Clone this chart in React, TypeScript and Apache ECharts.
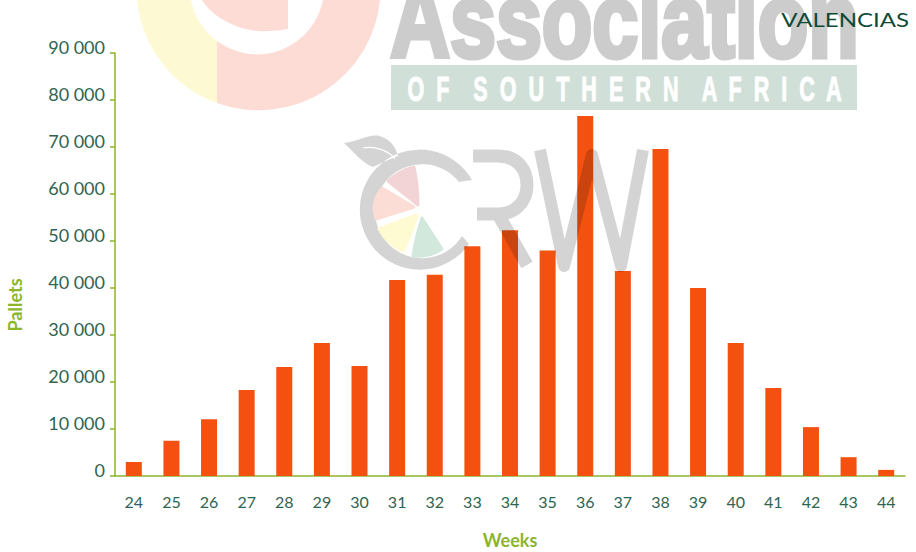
import React, { useEffect, useRef } from "react";
import * as echarts from "echarts";

const weeks = ["24","25","26","27","28","29","30","31","32","33","34","35","36","37","38","39","40","41","42","43","44"];
const pallets = [3000,7500,12100,18300,23200,28300,23400,41700,42800,48900,52300,48000,76600,43600,69600,40000,28300,18700,10400,4000,1300];
const titleText = "VALENCIAS";
const yName = "Pallets";
const xName = "Weeks";
const logoWord = "Association";
const logoSub = "O  F    S  O  U  T  H  E  R  N    A  F  R  I  C  A";

const shapes: Record<string, string> = {
  bigYellow: "M137 0 A122 122 0 0 0 217 103 L217 41 A67 67 0 0 1 191 0 Z",
  bigPink: "M217 103 A122 122 0 0 0 380 0 L323 0 A67 67 0 0 1 217 41 Z",
  bigInner: "M202 0 C214 20 245 33 267 31 Q278 31 288 29 L288 0 Z",
  crwRing:
    "M472 180 A60 60 0 1 0 469 244 L462 236 A47 47 0 1 1 459 182 Z " +
    "M344 143 C360 141 372 132 382 137 C391 140 396 148 398 156 L388 160 L373 167 C362 163 354 152 344 143 Z",
  crwR: "M473 156 L498 156 C518 156 527 170 527 185 C527 203 514 214 498 214 L477 214 M499 216 L527 265",
  crwW: "M540 150 L564 266 L592 155 L621 266 L643 150",
  vein: "M363 148 C375 146 388 150 395 159",
  wedgePink: "M388 181 C396 174 405 169 414 167 C417 180 418 193 418 205 Z",
  wedgeSalmon: "M382 188 L414 207 L376 219 C372 208 375 197 382 188 Z",
  wedgeYellow: "M417 215 C413 228 408 241 403 251 C392 246 384 238 379 229 Z",
  wedgeGreen: "M422 218 L442 249 C433 255 423 257 413 256 C415 243 418 230 422 218 Z",
};
Object.keys(shapes).forEach((k) => {
  echarts.graphic.registerShape(k, echarts.graphic.extendPath(shapes[k], {}));
});

export default function App() {
  const ref = useRef<HTMLDivElement>(null);
  useEffect(() => {
    document.body.style.margin = "0";
    const chart = echarts.init(ref.current!, undefined, { renderer: "svg" });
    const f = (t: string, style: any, z = 0) => ({ type: t, x: 0, y: 0, z, style, silent: true });
    const grey = "rgba(0,0,0,0.17)";
    const stroke = (t: string, w: number) =>
      f(t, { fill: "none", stroke: grey, lineWidth: w, lineCap: "butt", lineJoin: "round" }, 10);
    const wedge = (t: string, c: string) =>
      f(t, { fill: c, stroke: c, lineWidth: 3, lineJoin: "round" }, 10);
    chart.setOption({
      animation: false,
      backgroundColor: "#fff",
      grid: { left: 115, right: 11, top: 53, bottom: 76, outerBoundsMode: "none" },
      xAxis: {
        type: "category",
        data: weeks,
        name: xName,
        nameLocation: "middle",
        nameGap: 55,
        nameTextStyle: { color: "#8db52c", fontFamily: "Lato", fontSize: 18, fontWeight: "bold" },
        axisLine: { lineStyle: { color: "#8db52c", width: 1.5 } },
        axisTick: { alignWithLabel: false, length: 7, lineStyle: { color: "#8db52c", width: 1.5 } },
        axisLabel: { color: "#2f6450", fontFamily: "Lato", fontSize: 16, margin: 17, interval: 0 },
      },
      yAxis: {
        type: "value",
        min: 0,
        max: 90000,
        interval: 10000,
        splitLine: { show: false },
        axisLine: { show: true, lineStyle: { color: "#8db52c", width: 1.5 } },
        axisTick: { show: true, length: 5, lineStyle: { color: "#8db52c", width: 1.5 } },
        axisLabel: {
          color: "#2f6450",
          fontFamily: "Lato",
          fontSize: 18,
          margin: 10,
          verticalAlign: "bottom",
          lineHeight: 12,
          formatter: (v: number) => String(v).replace(/\B(?=(\d{3})+$)/g, " "),
        },
      },
      series: [{ type: "bar", data: pallets, barWidth: 16, itemStyle: { color: "#f45110" } }],
      graphic: [
        f("bigYellow", { fill: "#fdfad3" }),
        f("bigPink", { fill: "#fcdcd4" }),
        f("bigInner", { fill: "#fcdcd4" }),
        { type: "rect", shape: { x: 391, y: 65, width: 466, height: 45 }, style: { fill: "#d0e0d8" }, silent: true },
        {
          type: "text", x: 624.5, y: 20, silent: true, scaleX: 0.78,
          style: { text: logoWord, fill: "#cccccc", stroke: "#cccccc", lineWidth: 5, font: "bold 106px 'Liberation Sans'", textAlign: "center", verticalAlign: "middle" },
        },
        {
          type: "text", x: 624.5, y: 88.5, silent: true, scaleX: 0.6,
          style: { text: logoSub, fill: "#ffffff", stroke: "#ffffff", lineWidth: 1, font: "bold 36px 'Liberation Sans'", textAlign: "center", verticalAlign: "middle" },
        },
        f("crwRing", { fill: grey }, 10),
        stroke("crwR", 13),
        stroke("crwW", 12),
        f("vein", { fill: "none", stroke: "#ffffff", lineWidth: 1.2 }, 11),
        wedge("wedgePink", "#f2d4d7"),
        wedge("wedgeSalmon", "#fbddd5"),
        wedge("wedgeYellow", "#fefbd2"),
        wedge("wedgeGreen", "#d3e8dc"),
        {
          type: "text", x: 15, y: 305, rotation: Math.PI / 2, silent: true,
          style: { text: yName, fill: "#8db52c", font: "bold 18px Lato", textAlign: "center", verticalAlign: "middle" },
        },
        {
          type: "text", x: 909, y: 19, z: 20, scaleX: 1.2, silent: true,
          style: { text: titleText, fill: "#0f4a35", font: "20px Lato", textAlign: "right", verticalAlign: "middle" },
        },
      ],
    });
    return () => chart.dispose();
  }, []);
  return <div ref={ref} style={{ width: 916, height: 552 }} />;
}
